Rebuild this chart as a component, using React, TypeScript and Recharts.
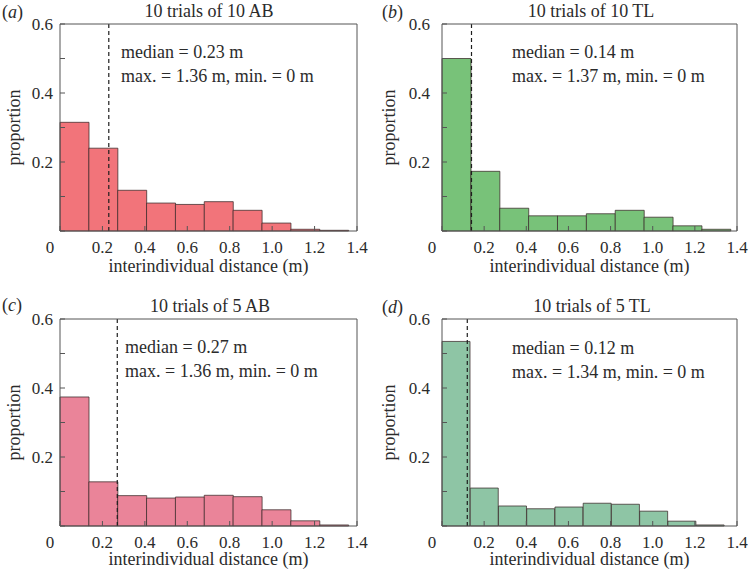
import React from "react";
import { Bar, ComposedChart, ReferenceLine, XAxis, YAxis } from "recharts";

const FONT = '"Liberation Serif", "Times New Roman", serif';
const INK = "#2b2b2b";
const BOX = "#555555";

const xTicks = [0, 0.2, 0.4, 0.6, 0.8, 1.0, 1.2, 1.4];
const yTicks = [0, 0.1, 0.2, 0.3, 0.4, 0.5, 0.6];
const yLabels = ["", "", "0.2", "", "0.4", "", "0.6"];

// bin centres (m), 10 equal bins from 0 to max
const binsA = [0.068, 0.204, 0.34, 0.476, 0.612, 0.748, 0.884, 1.02, 1.156, 1.292];
const binsB = [0.0685, 0.2055, 0.3425, 0.4795, 0.6165, 0.7535, 0.8905, 1.0275, 1.1645, 1.3015];
const binsC = [0.068, 0.204, 0.34, 0.476, 0.612, 0.748, 0.884, 1.02, 1.156, 1.292];
const binsD = [0.067, 0.201, 0.335, 0.469, 0.603, 0.737, 0.871, 1.005, 1.139, 1.273];

// proportions
const propA = [0.315, 0.24, 0.118, 0.081, 0.077, 0.085, 0.06, 0.023, 0.005, 0.002];
const propB = [0.5, 0.173, 0.066, 0.044, 0.044, 0.05, 0.06, 0.04, 0.015, 0.005];
const propC = [0.374, 0.128, 0.088, 0.081, 0.084, 0.089, 0.085, 0.047, 0.015, 0.003];
const propD = [0.535, 0.11, 0.058, 0.05, 0.055, 0.066, 0.063, 0.043, 0.014, 0.003];

const medians = [0.23, 0.14, 0.27, 0.12];
const maxima = ["1.36", "1.37", "1.36", "1.34"];
const titles = ["10 trials of 10 AB", "10 trials of 10 TL", "10 trials of 5 AB", "10 trials of 5 TL"];
const letters = ["a", "b", "c", "d"];

function XTick(props: any) {
  const { x, y, payload } = props;
  const v = payload.value as number;
  return (
    <text
      x={v === 0 ? x - 10 : x}
      y={y}
      dy="0.71em"
      textAnchor="middle"
      fill={INK}
      fontSize={17}
      fontFamily={FONT}
      style={{ fontFamily: FONT }}
    >
      {v === 0 ? "0" : v.toFixed(1)}
    </text>
  );
}

interface PanelProps {
  left: number;
  top: number;
  yAxisWidth: number;
  marginRight: number;
  tickGap: number;
  labelOffset: number;
  bins: number[];
  values: number[];
  fill: string;
  median: number;
}

function Panel({
  left,
  top,
  yAxisWidth,
  marginRight,
  tickGap,
  labelOffset,
  bins,
  values,
  fill,
  median,
}: PanelProps) {
  const data = bins.map((x, i) => ({ x, p: values[i] }));
  return (
    <div style={{ position: "absolute", left, top }}>
      <ComposedChart
        width={375}
        height={285}
        data={data}
        margin={{ top: 23, right: marginRight, bottom: 4, left: 0 }}
        barCategoryGap={0}
        barGap={0}
      >
        <XAxis
          dataKey="x"
          type="number"
          domain={[0, 1.4]}
          ticks={xTicks}
          interval={0}
          height={50}
          tickSize={-5}
          tickMargin={15}
          stroke={BOX}
          tick={<XTick />}
          label={{
            value: "interindividual distance (m)",
            position: "insideBottom",
            offset: labelOffset,
            fill: INK,
            fontSize: 18,
            fontFamily: FONT,
            style: { fontFamily: FONT },
          }}
        />
        <XAxis
          xAxisId="top"
          orientation="top"
          type="number"
          domain={[0, 1.4]}
          ticks={xTicks}
          interval={0}
          height={1}
          tickSize={-5}
          tick={false}
          stroke={BOX}
        />
        <YAxis
          type="number"
          domain={[0, 0.6]}
          ticks={yTicks}
          interval={0}
          width={yAxisWidth}
          tickSize={-5}
          tickMargin={tickGap + 5}
          stroke={BOX}
          tick={{ fill: INK, fontSize: 17, fontFamily: FONT, style: { fontFamily: FONT } }}
          tickFormatter={(_v: number, i: number) => yLabels[i]}
          label={{
            value: "proportion",
            angle: -90,
            position: "insideLeft",
            offset: 14,
            fill: INK,
            fontSize: 18,
            fontFamily: FONT,
            style: { textAnchor: "middle", fontFamily: FONT },
          }}
        />
        <YAxis
          yAxisId="right"
          orientation="right"
          type="number"
          domain={[0, 0.6]}
          ticks={yTicks}
          interval={0}
          width={1}
          tickSize={-5}
          tick={false}
          stroke={BOX}
        />
        <Bar
          dataKey="p"
          fill={fill}
          stroke="#3a2a2a"
          strokeOpacity={0.75}
          strokeWidth={1}
          isAnimationActive={false}
        />
        <ReferenceLine x={median} stroke="#1e1e1e" strokeWidth={1.2} strokeDasharray="4 3" />
      </ComposedChart>
    </div>
  );
}

const textStyle: React.CSSProperties = {
  position: "absolute",
  fontFamily: FONT,
  fontSize: 18,
  lineHeight: "18px",
  color: INK,
  whiteSpace: "nowrap",
};

function Labels({ i, letterX, letterY, titleX, titleY, noteX, noteY }: any) {
  return (
    <>
      <div style={{ ...textStyle, left: letterX, top: letterY - 9 }}>
        (<i>{letters[i]}</i>)
      </div>
      <div style={{ ...textStyle, left: titleX - 100, width: 200, textAlign: "center", top: titleY - 9 }}>
        {titles[i]}
      </div>
      <div style={{ ...textStyle, left: noteX, top: noteY - 9 }}>median = {medians[i].toFixed(2)} m</div>
      <div style={{ ...textStyle, left: noteX, top: noteY + 15 }}>
        max. = {maxima[i]} m, min. = 0 m
      </div>
    </>
  );
}

export default function App() {
  return (
    <div
      style={{
        position: "absolute",
        left: 0,
        top: 0,
        width: 750,
        height: 570,
        background: "#ffffff",
        overflow: "hidden",
      }}
    >
      <Panel left={0} top={0} yAxisWidth={60} marginRight={17} tickGap={7} labelOffset={9} bins={binsA} values={propA} fill="#f2747a" median={medians[0]} />
      <Panel left={375} top={0} yAxisWidth={67} marginRight={12} tickGap={12} labelOffset={9} bins={binsB} values={propB} fill="#78c279" median={medians[1]} />
      <Panel left={0} top={295} yAxisWidth={60} marginRight={17} tickGap={7} labelOffset={11} bins={binsC} values={propC} fill="#ea8499" median={medians[2]} />
      <Panel left={375} top={295} yAxisWidth={67} marginRight={12} tickGap={12} labelOffset={11} bins={binsD} values={propD} fill="#8ec5a5" median={medians[3]} />
      <Labels i={0} letterX={2} letterY={12} titleX={209} titleY={11} noteX={121} noteY={52} />
      <Labels i={1} letterX={382} letterY={12} titleX={591} titleY={11} noteX={512} noteY={52} />
      <Labels i={2} letterX={2} letterY={305} titleX={210} titleY={306} noteX={125} noteY={347} />
      <Labels i={3} letterX={382} letterY={307} titleX={592} titleY={306} noteX={512} noteY={348} />
    </div>
  );
}
